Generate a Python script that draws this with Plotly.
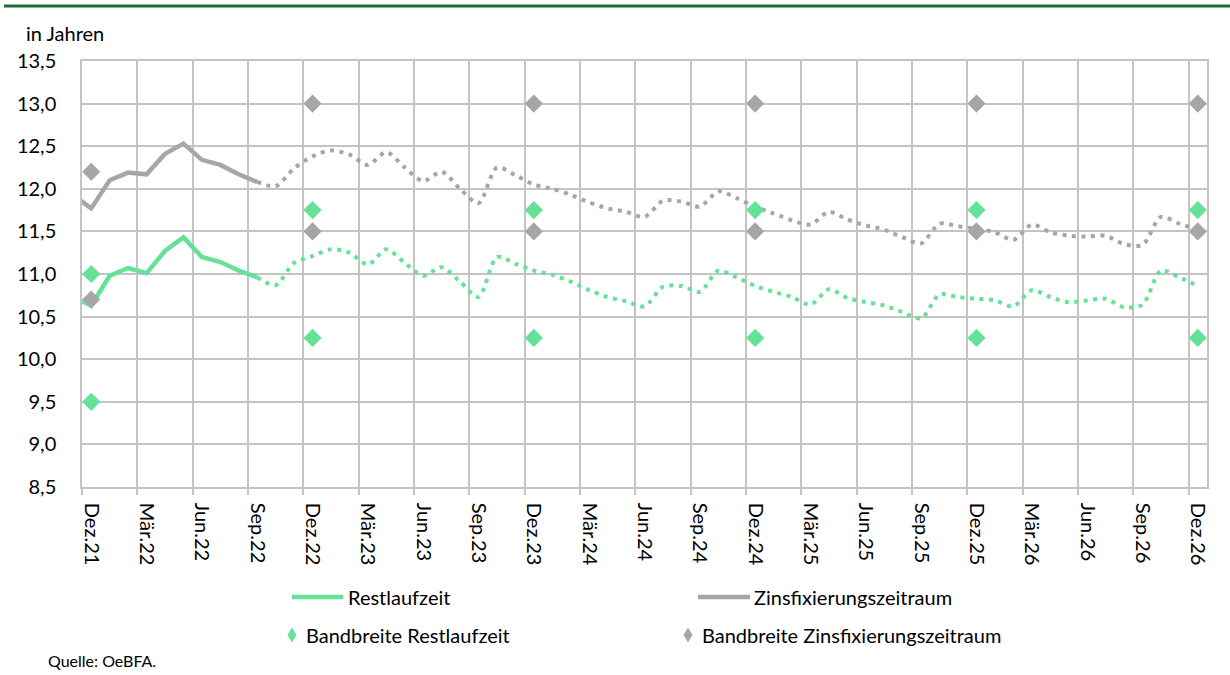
import plotly.graph_objects as go

# Monatsachse: Nov.21 (Index -1) bis Dez.26 (Index 60), Dez.21 = 0
monat_kurz = ["Jan", "Feb", "Mär", "Apr", "Mai", "Jun", "Jul", "Aug", "Sep", "Okt", "Nov", "Dez"]
monate = ["Nov.21", "Dez.21"] + [f"{m}.{j}" for j in range(22, 27) for m in monat_kurz]
idx = {m: i - 1 for i, m in enumerate(monate)}

tick_labels = [m for m in monate if m.split(".")[0] in ("Dez", "Mär", "Jun", "Sep")]

# Ist-Werte (durchgezogen), Nov.21 bis Sep.22
ist_monate = monate[:monate.index("Sep.22") + 1]
rest_ist = [10.73, 10.63, 10.98, 11.07, 11.01, 11.27, 11.43, 11.20, 11.14, 11.04, 10.96]
zins_ist = [11.93, 11.77, 12.10, 12.19, 12.17, 12.41, 12.53, 12.34, 12.28, 12.17, 12.08]

# Planwerte (gepunktet), Sep.22 bis Dez.26
plan_monate = monate[monate.index("Sep.22"):]
rest_plan = [10.96, 10.87, 11.13, 11.21, 11.29, 11.25, 11.11, 11.29, 11.13, 10.98,
             11.08, 10.91, 10.73, 11.20, 11.12, 11.04, 10.99, 10.91, 10.81, 10.73,
             10.68, 10.62, 10.85, 10.86, 10.79, 11.04, 10.96, 10.86, 10.79, 10.73,
             10.64, 10.82, 10.72, 10.67, 10.63, 10.55, 10.48, 10.76, 10.73, 10.71,
             10.69, 10.62, 10.81, 10.73, 10.67, 10.69, 10.71, 10.61, 10.64, 11.04,
             10.96, 10.86]
zins_plan = [12.08, 12.03, 12.24, 12.38, 12.45, 12.40, 12.28, 12.43, 12.25, 12.09,
             12.20, 12.00, 11.83, 12.25, 12.16, 12.05, 12.00, 11.93, 11.84, 11.77,
             11.73, 11.67, 11.86, 11.85, 11.79, 11.97, 11.89, 11.79, 11.71, 11.63,
             11.58, 11.73, 11.64, 11.57, 11.52, 11.43, 11.36, 11.59, 11.56, 11.53,
             11.49, 11.40, 11.58, 11.49, 11.45, 11.44, 11.45, 11.35, 11.34, 11.67,
             11.59, 11.52]

# Bandbreiten
band_monate = ["Dez.21", "Dez.22", "Dez.23", "Dez.24", "Dez.25", "Dez.26"]
rest_band_hoch = [11.0, 11.75, 11.75, 11.75, 11.75, 11.75]
rest_band_tief = [9.5, 10.25, 10.25, 10.25, 10.25, 10.25]
zins_band_hoch = [12.2, 13.0, 13.0, 13.0, 13.0, 13.0]
zins_band_tief = [10.7, 11.5, 11.5, 11.5, 11.5, 11.5]

GRUEN = "#66E298"
GRAU = "#A6A6A6"
GITTER = "#C4C4C4"
FONT = "Lato, Carlito, Calibri, sans-serif"
PUNKTE = "4px,5.5px"

fig = go.Figure()

fig.add_trace(go.Scatter(x=[idx[m] for m in ist_monate], y=zins_ist, mode="lines",
                         line=dict(color=GRAU, width=4.5)))
fig.add_trace(go.Scatter(x=[idx[m] for m in plan_monate], y=zins_plan, mode="lines",
                         line=dict(color=GRAU, width=4, dash=PUNKTE, shape="spline", smoothing=0.8)))
fig.add_trace(go.Scatter(x=[idx[m] for m in ist_monate], y=rest_ist, mode="lines",
                         line=dict(color=GRUEN, width=4.5)))
fig.add_trace(go.Scatter(x=[idx[m] for m in plan_monate], y=rest_plan, mode="lines",
                         line=dict(color=GRUEN, width=4, dash=PUNKTE, shape="spline", smoothing=0.8)))

bx = [idx[m] for m in band_monate]
for ys, farbe in [(zins_band_hoch, GRAU), (zins_band_tief, GRAU),
                  (rest_band_hoch, GRUEN), (rest_band_tief, GRUEN)]:
    fig.add_trace(go.Scatter(x=bx, y=ys, mode="markers", cliponaxis=False,
                             marker=dict(symbol="diamond", size=14, color=farbe, line=dict(width=0))))

# Pixel -> Papierkoordinaten (Plotbereich 82..1207 x 61..487)
def px(x):
    return (x - 82) / 1125


def py(y):
    return (487 - y) / 426


shapes = [
    dict(type="line", xref="paper", yref="paper", x0=px(4), x1=px(1230), y0=py(6), y1=py(6),
         line=dict(color="#1B6E37", width=3)),
    dict(type="line", xref="paper", yref="paper", x0=px(292), x1=px(343), y0=py(597), y1=py(597),
         line=dict(color=GRUEN, width=4.5)),
    dict(type="line", xref="paper", yref="paper", x0=px(698), x1=px(750), y0=py(597), y1=py(597),
         line=dict(color=GRAU, width=4.5)),
]
for x_leg, farbe in [(292, GRUEN), (688, GRAU)]:
    shapes.append(dict(type="path", xref="paper", yref="paper", xsizemode="pixel", ysizemode="pixel",
                       xanchor=px(x_leg), yanchor=py(635), path="M 0 7.5 L 4.5 0 L 0 -7.5 L -4.5 0 Z",
                       fillcolor=farbe, line=dict(width=0)))

annotations = [
    dict(text="in Jahren", x=px(24), y=py(33), xanchor="left", yanchor="middle", font=dict(size=20)),
    dict(text="Restlaufzeit", x=px(346), y=py(597), xanchor="left", yanchor="middle", font=dict(size=20)),
    dict(text="Zinsfixierungszeitraum", x=px(752), y=py(597), xanchor="left", yanchor="middle", font=dict(size=20)),
    dict(text="Bandbreite Restlaufzeit", x=px(304), y=py(635), xanchor="left", yanchor="middle", font=dict(size=20)),
    dict(text="Bandbreite Zinsfixierungszeitraum", x=px(700), y=py(635), xanchor="left", yanchor="middle",
         font=dict(size=20)),
    dict(text="Quelle: OeBFA.", x=px(46), y=py(660), xanchor="left", yanchor="middle", font=dict(size=16)),
]
for a in annotations:
    a.update(xref="paper", yref="paper", showarrow=False)

fig.update_layout(
    width=1230, height=675,
    margin=dict(l=82, r=23, t=61, b=188),
    paper_bgcolor="white", plot_bgcolor="white",
    font=dict(family=FONT, size=20, color="#000000"),
    separators=",.",
    showlegend=False,
    shapes=shapes,
    annotations=annotations,
    xaxis=dict(
        range=[-0.5, 60.5],
        tickmode="array", tickvals=[idx[m] for m in tick_labels], ticktext=tick_labels,
        tickangle=90, ticks="", showgrid=False, zeroline=False,
        ticklabelstandoff=10,
        showline=True, linecolor=GITTER, linewidth=1.5, mirror=True,
        minor=dict(tick0=-0.5, dtick=3, ticks="outside", ticklen=6, tickcolor=GITTER, tickwidth=1.5,
                   showgrid=True, gridcolor=GITTER, gridwidth=1.5),
        tickfont=dict(size=20),
    ),
    yaxis=dict(
        range=[8.5, 13.5], dtick=0.5, tickformat=".1f",
        showgrid=True, gridcolor=GITTER, gridwidth=1.5, zeroline=False,
        showline=True, linecolor=GITTER, linewidth=1.5, mirror=True,
        ticks="", ticklabelstandoff=20,
        tickfont=dict(size=20),
    ),
)

# Seitenrand des Browsers entfernen, damit die Grafik bei (0,0) beginnt
fig.write_html("out.html", config={"displayModeBar": False},
               post_script="document.body.style.margin='0';")
